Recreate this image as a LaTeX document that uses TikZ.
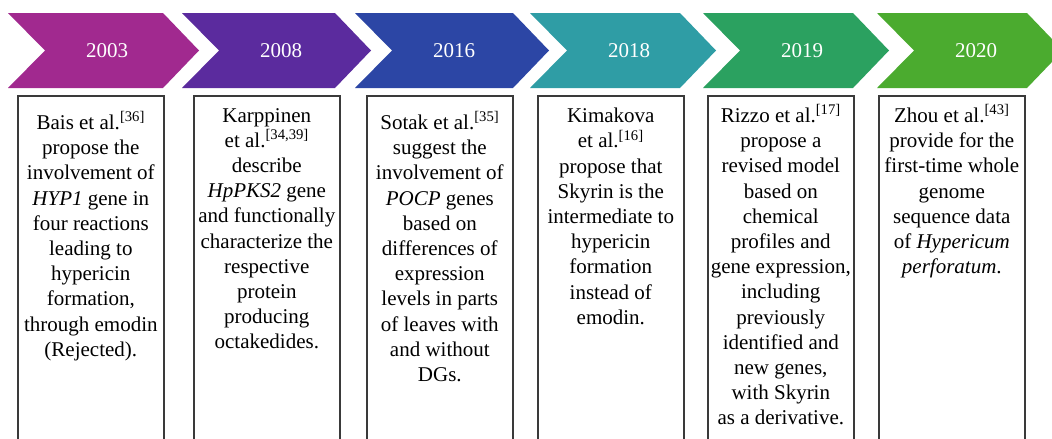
\documentclass[tikz,border=0pt]{standalone}
\usepackage{fontspec}
\setmainfont{Liberation Serif}
\definecolor{c1}{HTML}{A1298F}
\definecolor{c2}{HTML}{5B2B9E}
\definecolor{c3}{HTML}{2C46A5}
\definecolor{c4}{HTML}{2F9DA5}
\definecolor{c5}{HTML}{2BA160}
\definecolor{c6}{HTML}{4BAB2F}
\definecolor{boxline}{HTML}{3A3A3A}
\tikzset{
  yeartext/.style={text=white, font=\fontsize{21}{24}\selectfont, inner sep=0pt},
  eventbox/.style={draw=boxline, line width=1.6pt, minimum width=146pt, minimum height=370pt, anchor=north west, inner sep=0pt},
  eventtext/.style={align=center, font=\fontsize{21}{25.2}\selectfont, inner sep=0pt, anchor=north},
}
\begin{document}
\begin{tikzpicture}[x=1pt,y=1pt]
\useasboundingbox (0,0) rectangle (1052,-439);
\clip (0,0) rectangle (1052,-439);
\fill[white] (0,0) rectangle (1052,-439);
% chevrons: left, body end, colour, year
\foreach \L/\R/\col/\yr/\nm in {8/163/c1/2003/ya, 182/335/c2/2008/yb, 355/513/c3/2016/yc, 530/680/c4/2018/yd, 703/853/c5/2019/ye, 877/1027/c6/2020/yf}{
  \fill[\col] (\L,-13) -- (\R,-13) -- (\R+36,-50.5) -- (\R,-88) -- (\L,-88) -- (\L+37,-50.5) -- cycle;
  \node[yeartext] (\nm) at (\L+99,-50.5) {\yr};
}
% boxes
\node[eventbox] (b1) at (17,-95) {};
\node[eventbox] (b2) at (193,-95) {};
\node[eventbox] (b3) at (366,-95) {};
\node[eventbox] (b4) at (537,-95) {};
\node[eventbox] (b5) at (707,-95) {};
\node[eventbox] (b6) at (878,-95) {};
% texts
\node[eventtext] (t1) at ([yshift=-16.5pt]b1.north) {Bais et al.\textsuperscript{[36]}\\propose the\\involvement of\\\textit{HYP1} gene in\\four reactions\\leading to\\hypericin\\formation,\\through emodin\\(Rejected).};
\node[eventtext] (t2) at ([yshift=-13pt]b2.north) {Karppinen\\et al.\textsuperscript{[34,39]}\\describe\\\textit{HpPKS2} gene\\and functionally\\characterize the\\respective\\protein\\producing\\octakedides.};
\node[eventtext] (t3) at ([yshift=-16.5pt]b3.north) {Sotak et al.\textsuperscript{[35]}\\suggest the\\involvement of\\\textit{POCP} genes\\based on\\differences of\\expression\\levels in parts\\of leaves with\\and without\\DGs.};
\node[eventtext] (t4) at ([yshift=-13pt]b4.north) {Kimakova\\et al.\textsuperscript{[16]}\\propose that\\Skyrin is the\\intermediate to\\hypericin\\formation\\instead of\\emodin.};
\node[eventtext] (t5) at ([yshift=-9.5pt]b5.north) {Rizzo et al.\textsuperscript{[17]}\\propose a\\revised model\\based on\\chemical\\profiles and\\gene expression,\\including\\previously\\identified and\\new genes,\\with Skyrin\\as a derivative.};
\node[eventtext] (t6) at ([yshift=-9.5pt]b6.north) {Zhou et al.\textsuperscript{[43]}\\provide for the\\first-time whole\\genome\\sequence data\\of \textit{Hypericum}\\\textit{perforatum}.};
\end{tikzpicture}
\end{document}
